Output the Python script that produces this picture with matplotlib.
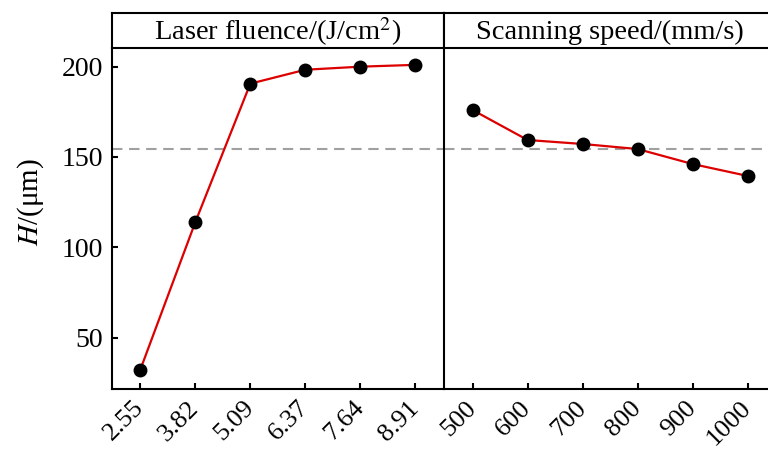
import matplotlib.pyplot as plt
import numpy as np

plt.rcParams['font.family'] = ['Liberation Serif', 'DejaVu Serif']
plt.rcParams['mathtext.fontset'] = 'stix'

# main effect data: mean H for each factor level
fluence = ['2.55', '3.82', '5.09', '6.37', '7.64', '8.91']
H_fluence = [32.2, 113.9, 190.6, 198.3, 200.0, 201.0]
speed = ['500', '600', '700', '800', '900', '1000']
H_speed = [176.0, 159.4, 157.2, 154.4, 146.1, 139.5]
H_mean = 154.5

titles = ['Laser fluence/(J/cm$^2$)', 'Scanning speed/(mm/s)']

fig = plt.figure(figsize=(7.68, 4.5), dpi=100)
w = 0.4327
lefts = [0.1454, 0.5781]
bot, h = 0.1349, 0.7591

for i, (labels, vals) in enumerate([(fluence, H_fluence), (speed, H_speed)]):
    ax = fig.add_axes([lefts[i], bot, w, h])
    x = np.arange(len(labels))
    ax.axhline(H_mean, color='#a0a0a0', lw=1.5, ls=(0, (5, 3.2)), zorder=1)
    ax.plot(x, vals, color='#dd0000', lw=1.6, zorder=2)
    ax.plot(x, vals, 'o', color='black', ms=9, zorder=3)
    ax.set_xlim(-0.52, 5.52)
    ax.set_ylim(21.4, 210.5)
    ax.set_xticks(x)
    ax.set_xticklabels(labels, rotation=45, ha='right', va='center',
                       rotation_mode='anchor')
    ax.tick_params(direction='in', length=4, width=1.5, labelsize=20)
    ax.tick_params(axis='x', pad=11, labelsize=19)
    ax.tick_params(axis='y', pad=6)
    for s in ax.spines.values():
        s.set_linewidth(1.5)
    ax.spines['top'].set_visible(False)
    ax.spines['right'].set_visible(False)
    if i == 0:
        ax.set_yticks([50, 100, 150, 200])
        ax.set_ylabel('$H$/(μm)', fontsize=21)
        ax.yaxis.set_label_coords(-0.198, 0.548)
    else:
        ax.set_yticks([])

    # strip header above each panel
    st = fig.add_axes([lefts[i], bot + h, w, 0.0769])
    st.set_xticks([])
    st.set_yticks([])
    for s in st.spines.values():
        s.set_linewidth(1.5)
    st.text(0.5, 0.45, titles[i], ha='center', va='center', fontsize=20.5,
            transform=st.transAxes)

fig.savefig('out.png', dpi=100)
